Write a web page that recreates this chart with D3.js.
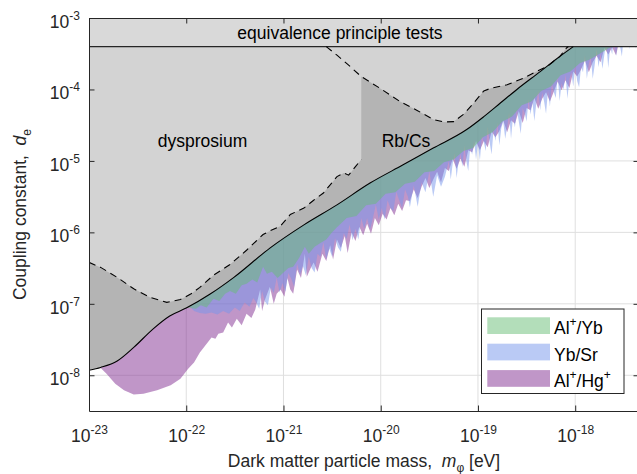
<!DOCTYPE html>
<html>
<head>
<meta charset="utf-8">
<script src="https://cdn.jsdelivr.net/npm/d3@7"></script>
<style>
  body { margin: 0; background: #fff; }
  svg { display: block; font-family: "Liberation Sans", Arial, sans-serif; }
</style>
</head>
<body>
<div id="chart-holder"></div>
<script>
// All points are [log10 mass in eV, log10 coupling d_e]

// equivalence principle tests (upper band)
const epLimit = -3.4;

// combined exclusion boundary (solid line)
const combinedBound = [
  [-23.0, -7.93], [-22.88, -7.89], [-22.71, -7.8], [-22.54, -7.61], [-22.34, -7.35],
  [-22.17, -7.17], [-22.0, -7.06], [-21.75, -6.86], [-21.51, -6.63], [-21.14, -6.22],
  [-20.79, -5.895], [-20.45, -5.615], [-20.11, -5.31], [-19.77, -5.055], [-19.46, -4.82],
  [-19.12, -4.565], [-18.94, -4.38], [-18.77, -4.19], [-18.6, -4.0], [-18.36, -3.75],
  [-18.2, -3.58], [-18.02, -3.4]
];

// dysprosium limit (dashed, left part)
const dysprosiumBound = [
  [-23.0, -6.42], [-22.88, -6.49], [-22.71, -6.63], [-22.54, -6.79], [-22.37, -6.91],
  [-22.2, -6.98], [-22.06, -6.94], [-21.95, -6.86], [-21.86, -6.77], [-21.72, -6.6],
  [-21.55, -6.45], [-21.38, -6.25], [-21.21, -6.03], [-21.14, -5.98], [-21.03, -5.91],
  [-20.93, -5.75], [-20.79, -5.66], [-20.69, -5.55], [-20.59, -5.45], [-20.45, -5.22],
  [-20.38, -5.17], [-20.33, -5.2], [-20.26, -5.08], [-20.2, -4.98]
];

// Rb/Cs limit (dashed, right part)
const rbcsBound = [
  [-20.56, -3.4], [-20.45, -3.52], [-20.33, -3.66], [-20.2, -3.82], [-20.0, -3.99],
  [-19.8, -4.17], [-19.63, -4.29], [-19.46, -4.42], [-19.35, -4.455], [-19.25, -4.45],
  [-19.15, -4.35], [-19.05, -4.2], [-18.94, -4.02], [-18.86, -3.98], [-18.7, -3.935],
  [-18.53, -3.84], [-18.4, -3.75], [-18.29, -3.68], [-18.16, -3.54], [-18.09, -3.42],
  [-18.07, -3.4]
];

// lower edges of the clock comparison bands
const alYbLower = [
  [-22.02, -7.05], [-21.96, -7.06], [-21.9, -7.07], [-21.85, -7.02], [-21.79, -7.05],
  [-21.72, -6.93], [-21.66, -6.96], [-21.6, -6.86], [-21.55, -6.82], [-21.49, -6.86],
  [-21.43, -6.74], [-21.38, -6.72], [-21.32, -6.66], [-21.27, -6.7], [-21.21, -6.48],
  [-21.17, -6.58], [-21.12, -6.55], [-21.06, -6.64], [-21.0, -6.56], [-20.95, -6.5],
  [-20.9, -6.48], [-20.84, -6.36], [-20.78, -6.2], [-20.74, -6.3], [-20.68, -6.2],
  [-20.62, -6.15], [-20.56, -6.1], [-20.5, -6.0], [-20.45, -5.93], [-20.35, -5.8],
  [-20.25, -5.77], [-20.15, -5.62], [-20.05, -5.6], [-19.95, -5.46], [-19.85, -5.44],
  [-19.75, -5.32], [-19.65, -5.29], [-19.55, -5.16], [-19.45, -5.14], [-19.35, -5.02],
  [-19.25, -4.98], [-19.15, -4.86], [-19.05, -4.82], [-18.95, -4.67], [-18.85, -4.6],
  [-18.75, -4.45], [-18.65, -4.38], [-18.55, -4.22], [-18.45, -4.17], [-18.35, -4.02],
  [-18.25, -3.96], [-18.15, -3.8], [-18.05, -3.75], [-17.95, -3.63], [-17.85, -3.58],
  [-17.75, -3.5], [-17.65, -3.42], [-17.55, -3.38], [-17.45, -3.25], [-17.35, -3.18],
  [-17.3, -3.1]
];

const ybSrLower = [
  [-21.97, -7.03], [-21.92, -7.1], [-21.86, -7.13], [-21.8, -7.14], [-21.74, -7.12],
  [-21.68, -7.15], [-21.62, -7.1], [-21.56, -7.14], [-21.5, -7.05], [-21.45, -7.1],
  [-21.4, -6.98], [-21.35, -7.04], [-21.31, -6.92],
  [-21.28, -6.98], [-21.25, -7.07], [-21.22, -6.82], [-21.19, -6.97], [-21.16, -7.02],
  [-21.13, -6.77], [-21.1, -6.85], [-21.07, -6.63], [-21.04, -6.84], [-21.01, -6.71],
  [-20.98, -6.83], [-20.95, -6.57], [-20.92, -6.65], [-20.89, -6.76], [-20.86, -6.44],
  [-20.83, -6.59], [-20.8, -6.47], [-20.77, -6.6], [-20.74, -6.34], [-20.71, -6.5],
  [-20.68, -6.56], [-20.65, -6.3], [-20.62, -6.34], [-20.59, -6.14], [-20.56, -6.37],
  [-20.53, -6.23], [-20.5, -6.34], [-20.47, -6.08], [-20.44, -6.21], [-20.41, -6.27],
  [-20.38, -6.01], [-20.35, -6.09], [-20.32, -5.89], [-20.29, -6.11], [-20.26, -5.95],
  [-20.23, -6.1], [-20.2, -5.8], [-20.17, -5.95], [-20.14, -5.8], [-20.11, -5.96],
  [-20.08, -5.8], [-20.05, -5.61], [-20.02, -5.82], [-19.99, -5.66], [-19.96, -5.82],
  [-19.93, -5.55], [-19.9, -5.66], [-19.87, -5.7], [-19.84, -5.43], [-19.81, -5.55],
  [-19.78, -5.66], [-19.75, -5.4], [-19.72, -5.5],
  [-19.7, -5.65], [-19.66, -5.34], [-19.62, -5.64], [-19.58, -5.3], [-19.54, -5.44],
  [-19.5, -5.14], [-19.46, -5.5], [-19.42, -5.2], [-19.38, -5.36], [-19.34, -5.22],
  [-19.3, -5.0], [-19.28, -5.26], [-19.26, -5.04], [-19.24, -4.89], [-19.22, -5.24],
  [-19.2, -5.02], [-19.18, -4.9], [-19.16, -5.08], [-19.14, -4.78], [-19.12, -5.0],
  [-19.1, -5.14], [-19.08, -4.82], [-19.06, -4.91], [-19.04, -4.71], [-19.02, -4.98],
  [-19.0, -4.76], [-18.98, -4.99], [-18.96, -4.65], [-18.94, -4.74], [-18.92, -4.86],
  [-18.9, -4.52], [-18.88, -4.74], [-18.86, -4.91], [-18.84, -4.57], [-18.82, -4.72],
  [-18.8, -4.46], [-18.78, -4.78], [-18.76, -4.54], [-18.74, -4.45], [-18.72, -4.69],
  [-18.7, -4.53], [-18.68, -4.32], [-18.66, -4.69], [-18.64, -4.39], [-18.62, -4.53],
  [-18.6, -4.28], [-18.58, -4.45], [-18.56, -4.62], [-18.54, -4.26], [-18.52, -4.33],
  [-18.5, -4.45], [-18.48, -4.13], [-18.46, -4.35], [-18.44, -4.18], [-18.42, -4.44],
  [-18.4, -4.19], [-18.38, -4.01], [-18.36, -4.29], [-18.34, -4.04], [-18.32, -4.17],
  [-18.3, -4.34], [-18.28, -4.01], [-18.26, -4.24], [-18.24, -3.91], [-18.22, -4.04],
  [-18.2, -4.12], [-18.18, -3.82], [-18.16, -4.16], [-18.14, -3.91], [-18.12, -4.0],
  [-18.1, -3.79], [-18.08, -4.13], [-18.06, -3.86], [-18.04, -3.76], [-18.02, -3.96],
  [-18.0, -3.66], [-17.98, -3.88], [-17.96, -3.97], [-17.94, -3.68], [-17.92, -3.76],
  [-17.9, -3.52], [-17.88, -3.85], [-17.86, -3.64], [-17.84, -3.54], [-17.82, -3.85],
  [-17.8, -3.66], [-17.78, -3.43], [-17.76, -3.69], [-17.74, -3.49], [-17.72, -3.71],
  [-17.7, -3.51], [-17.68, -3.35], [-17.66, -3.7], [-17.64, -3.4], [-17.62, -3.51],
  [-17.6, -3.23], [-17.58, -3.54], [-17.56, -3.27], [-17.54, -3.39], [-17.52, -3.54],
  [-17.5, -3.23], [-17.48, -3.39], [-17.46, -3.12], [-17.44, -3.44], [-17.42, -3.21],
  [-17.4, -3.09], [-17.38, -3.43], [-17.36, -3.18], [-17.34, -3.06], [-17.32, -3.27],
  [-17.3, -3.1]
];

const alHgLower = [
  [-22.9, -7.87], [-22.82, -7.98], [-22.73, -8.12], [-22.64, -8.21], [-22.54, -8.27],
  [-22.44, -8.26], [-22.3, -8.21], [-22.16, -8.14], [-22.06, -8.05], [-21.98, -7.91],
  [-21.92, -7.82], [-21.86, -7.68], [-21.79, -7.56], [-21.74, -7.47], [-21.7, -7.49],
  [-21.67, -7.42], [-21.62, -7.4], [-21.57, -7.26], [-21.53, -7.33], [-21.48, -7.21],
  [-21.43, -7.3], [-21.38, -7.14], [-21.33, -7.2], [-21.29, -7.08], [-21.24, -6.8],
  [-21.22, -7.1], [-21.19, -6.94], [-21.14, -6.76], [-21.1, -7.0], [-21.07, -6.86],
  [-21.03, -6.8], [-20.99, -6.9], [-20.96, -6.64], [-20.93, -6.8], [-20.9, -6.86],
  [-20.86, -6.52], [-20.82, -6.64], [-20.78, -6.3], [-20.76, -6.62], [-20.72, -6.5],
  [-20.69, -6.42], [-20.65, -6.55], [-20.6, -6.3], [-20.56, -6.4], [-20.52, -6.18],
  [-20.49, -6.38], [-20.45, -6.1], [-20.41, -6.22], [-20.37, -6.05], [-20.34, -6.29],
  [-20.3, -6.0], [-20.26, -6.12], [-20.22, -5.92], [-20.18, -6.04], [-20.14, -5.88],
  [-20.1, -6.02], [-20.06, -5.8], [-20.02, -5.9], [-19.98, -5.74], [-19.94, -5.82],
  [-19.9, -5.66], [-19.86, -5.76], [-19.82, -5.6], [-19.78, -5.7], [-19.74, -5.55],
  [-19.7, -5.56], [-19.66, -5.4], [-19.62, -5.52], [-19.58, -5.36], [-19.54, -5.24],
  [-19.5, -5.38], [-19.46, -5.26], [-19.42, -5.15], [-19.38, -5.3], [-19.34, -5.1],
  [-19.3, -5.14], [-19.26, -4.97], [-19.22, -5.11], [-19.18, -4.97], [-19.14, -5.08],
  [-19.1, -4.85], [-19.06, -4.88], [-19.02, -4.72], [-18.98, -4.85], [-18.94, -4.72],
  [-18.9, -4.81], [-18.86, -4.59], [-18.82, -4.67], [-18.78, -4.58], [-18.74, -4.43],
  [-18.7, -4.6], [-18.66, -4.43], [-18.62, -4.48], [-18.58, -4.3], [-18.54, -4.47],
  [-18.5, -4.26], [-18.46, -4.29], [-18.42, -4.12], [-18.38, -4.27], [-18.34, -4.13],
  [-18.3, -4.04], [-18.26, -4.17], [-18.22, -4.03], [-18.18, -3.89], [-18.14, -4.01],
  [-18.1, -3.87], [-18.06, -3.98], [-18.02, -3.75], [-17.98, -3.82], [-17.94, -3.72],
  [-17.9, -3.59], [-17.86, -3.76], [-17.82, -3.62], [-17.78, -3.53], [-17.74, -3.62],
  [-17.7, -3.42], [-17.66, -3.51], [-17.62, -3.41], [-17.58, -3.52], [-17.54, -3.28],
  [-17.5, -3.32], [-17.46, -3.16], [-17.42, -3.31], [-17.38, -3.15], [-17.34, -3.2],
  [-17.3, -3.1]
];

// tick values and legend entries
const xTicks = [1e-23, 1e-22, 1e-21, 1e-20, 1e-19, 1e-18];
const yTicks = [1e-8, 1e-7, 1e-6, 1e-5, 1e-4, 1e-3];
const bandNames = [
  [["Al"], ["+", "sup"], ["/Yb"]],
  [["Yb/Sr"]],
  [["Al"], ["+", "sup"], ["/Hg"], ["+", "sup"]]
];
const bandColors = ["#67bd75", "#7595eb", "#812d91"];

// Declare the chart dimensions
const width = 637;
const height = 474;
const plotLeft = 89;
const plotRight = 639;
const plotTop = 18;
const plotBottom = 411;
const fontSize = 17.5;
const supSize = 12;

const x = d3.scaleLog().domain([1e-23, 10 ** -17.344]).range([plotLeft, plotRight]);
const y = d3.scaleLog().domain([10 ** -8.5, 1e-3]).range([plotBottom, plotTop]);
const px = (p) => x(10 ** p[0]);
const py = (p) => y(10 ** p[1]);

// helper for text with super/subscripts
const richText = (sel, parts) => {
  let shift = 0;
  parts.forEach(([t, kind, style]) => {
    const target = kind === "sup" ? -8 : kind === "sub" ? 5 : 0;
    sel.append("tspan")
      .attr("dy", target - shift)
      .attr("font-size", kind ? supSize : null)
      .attr("font-style", style === "it" ? "italic" : null)
      .text(t);
    shift = target;
  });
};

const svg = d3
  .select("#chart-holder")
  .append("svg")
  .attr("width", width)
  .attr("height", height);

svg.append("defs").append("clipPath").attr("id", "plot-clip")
  .append("rect")
  .attr("x", plotLeft).attr("y", plotTop)
  .attr("width", plotRight - plotLeft).attr("height", plotBottom - plotTop);

const plot = svg.append("g").attr("clip-path", "url(#plot-clip)");

// grid
plot.selectAll(".xgrid")
  .data(xTicks.slice(1))
  .enter().append("line")
  .attr("x1", (d) => x(d)).attr("x2", (d) => x(d))
  .attr("y1", plotTop).attr("y2", plotBottom)
  .attr("stroke", "#dfdfdf");
plot.selectAll(".ygrid")
  .data(yTicks.slice(0, -1))
  .enter().append("line")
  .attr("x1", plotLeft).attr("x2", plotRight)
  .attr("y1", (d) => y(d)).attr("y2", (d) => y(d))
  .attr("stroke", "#dfdfdf");

// clock comparison bands, filled from their lower edge upward
const bandArea = d3.area().x(px).y0(y(1e-3)).y1(py);
[alHgLower, ybSrLower, alYbLower].forEach((band, i) => {
  plot.append("path")
    .attr("d", bandArea(band))
    .attr("fill", bandColors[2 - i])
    .attr("fill-opacity", 0.5);
});

// excluded regions
const epY = y(10 ** epLimit);
plot.append("path")
  .attr("d", d3.area().x(px).y0(epY).y1(py).curve(d3.curveMonotoneX)(combinedBound))
  .attr("fill", "#b4b4b4");

const lightEdge = dysprosiumBound.concat(rbcsBound.filter((p) => p[0] >= -20.2));
plot.append("path")
  .attr("d", d3.area().x(px).y0(epY).y1(py)(lightEdge))
  .attr("fill", "#d3d3d3");

plot.append("rect")
  .attr("x", plotLeft).attr("y", plotTop)
  .attr("width", plotRight - plotLeft).attr("height", epY - plotTop)
  .attr("fill", "#d9d9d9");
plot.append("line")
  .attr("x1", plotLeft).attr("x2", plotRight)
  .attr("y1", epY).attr("y2", epY)
  .attr("stroke", "#262626").attr("stroke-width", 1.2);

// boundary lines
plot.append("path")
  .attr("d", d3.line().x(px).y(py).curve(d3.curveMonotoneX)(combinedBound))
  .attr("fill", "none").attr("stroke", "#000").attr("stroke-width", 1.1);
[dysprosiumBound, rbcsBound].forEach((b) => {
  plot.append("path")
    .attr("d", d3.line().x(px).y(py)(b))
    .attr("fill", "none").attr("stroke", "#000").attr("stroke-width", 1.1)
    .attr("stroke-dasharray", "7,5");
});

// region labels
const labels = svg.append("g").attr("font-size", fontSize).attr("fill", "#000").attr("text-anchor", "middle");
labels.append("text").attr("x", 340).attr("y", 39).text("equivalence principle tests");
labels.append("text").attr("x", 202.5).attr("y", 146.5).text("dysprosium");
labels.append("text").attr("x", 406).attr("y", 146.5).text("Rb/Cs");

// axes
const powerLabels = (g) => {
  g.selectAll(".tick text").each(function (d) {
    const t = d3.select(this);
    t.text(null);
    richText(t, [["10"], [String(Math.round(Math.log10(d))), "sup"]]);
  });
};
const styleAxis = (g) => {
  g.attr("font-family", null).attr("font-size", fontSize);
  g.selectAll("path, line").attr("stroke", "#262626");
  g.selectAll("text").attr("fill", "#262626");
};

svg.append("g")
  .attr("transform", `translate(0,${plotBottom})`)
  .call(d3.axisBottom(x).tickValues(xTicks).tickSizeInner(-5.5).tickSizeOuter(0))
  .call(styleAxis)
  .call((g) => g.selectAll(".tick text").attr("y", 31.3).attr("dy", null))
  .call(powerLabels);

svg.append("g")
  .attr("transform", `translate(${plotLeft},0)`)
  .call(d3.axisLeft(y).tickValues(yTicks).tickSizeInner(-5.5).tickSizeOuter(0))
  .call(styleAxis)
  .call((g) => g.selectAll(".tick text").attr("x", -9).attr("y", 9.5).attr("dy", null))
  .call(powerLabels);

svg.append("g")
  .attr("transform", `translate(0,${plotTop})`)
  .call(d3.axisTop(x).tickValues(xTicks).tickSizeInner(-5.5).tickSizeOuter(0).tickFormat(""))
  .call(styleAxis);

svg.append("g")
  .attr("transform", `translate(${plotRight},0)`)
  .call(d3.axisRight(y).tickValues(yTicks).tickSizeInner(-5.5).tickSizeOuter(0).tickFormat(""))
  .call(styleAxis);

// axis titles
const xTitle = svg.append("text")
  .attr("x", 364).attr("y", 467)
  .attr("text-anchor", "middle")
  .attr("font-size", fontSize).attr("fill", "#262626")
  .style("white-space", "pre");
richText(xTitle, [["Dark matter particle mass,  "], ["m", null, "it"], ["\u03c6", "sub"], [" [eV]"]]);

const yTitle = svg.append("text")
  .attr("transform", "translate(25.5,214.5) rotate(-90)")
  .attr("text-anchor", "middle")
  .attr("font-size", fontSize).attr("fill", "#262626")
  .style("white-space", "pre");
richText(yTitle, [["Coupling constant,  "], ["d", null, "it"], ["e", "sub"]]);

// legend
const legend = svg.append("g");
legend.append("rect")
  .attr("x", 481.5).attr("y", 309)
  .attr("width", 142.5).attr("height", 84.5)
  .attr("fill", "#fff").attr("stroke", "#262626");
bandNames.forEach((name, i) => {
  const rowY = 317.3 + i * 26.4;
  legend.append("rect")
    .attr("x", 487.3).attr("y", rowY)
    .attr("width", 62.7).attr("height", 16.7)
    .attr("fill", bandColors[i]).attr("fill-opacity", 0.5);
  const t = legend.append("text")
    .attr("x", 554).attr("y", rowY + 16.8)
    .attr("font-size", fontSize).attr("fill", "#000");
  richText(t, name);
});
</script>
</body>
</html>
